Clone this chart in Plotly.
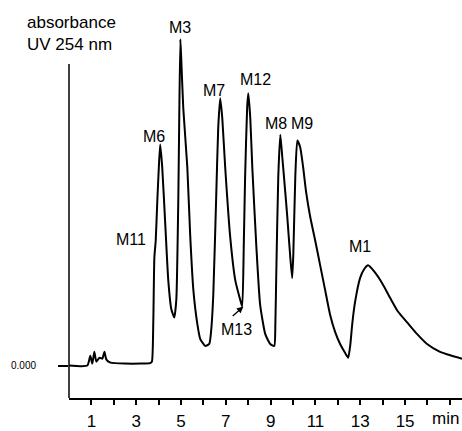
import plotly.graph_objects as go

# Chromatogram trace: retention time (min) and absorbance (arbitrary units)
time_min = [0.0, 0.82, 0.95, 1.04, 1.13, 1.22, 1.36, 1.49, 1.58, 1.67, 1.85, 2.5, 3.2, 3.62,
            3.70, 3.76, 3.81, 3.87, 3.94, 4.01, 4.07, 4.16, 4.30, 4.43, 4.57, 4.70, 4.79, 4.88,
            4.92, 4.97, 5.01, 5.10, 5.28, 5.41, 5.55, 5.73, 5.86, 6.08, 6.26, 6.35, 6.44, 6.57,
            6.66, 6.75, 6.84, 6.97, 7.19, 7.42, 7.64, 7.73, 7.80, 7.86, 7.95, 8.00, 8.09, 8.18,
            8.36, 8.53, 8.76, 8.98, 9.16, 9.21, 9.25, 9.34, 9.43, 9.52, 9.65, 9.74, 9.87, 9.96,
            10.01, 10.10, 10.19, 10.32, 10.45, 10.58, 10.76, 10.99, 11.21, 11.43, 11.65, 11.88,
            12.10, 12.32, 12.46, 12.55, 12.64, 12.77, 12.99, 13.17, 13.35, 13.61, 13.97, 14.33,
            14.68, 15.09, 15.54, 15.98, 16.56, 17.09, 17.54]
absorbance = [0.0, 0.0, 0.10, 0.02, 0.14, 0.04, 0.08, 0.07, 0.14, 0.06, 0.03, 0.02, 0.02, 0.025,
              0.04, 0.42, 1.10, 1.27, 1.67, 2.02, 2.25, 2.02, 1.42, 0.87, 0.57, 0.49, 0.67, 1.72,
              2.52, 3.32, 3.12, 2.62, 2.02, 1.32, 0.77, 0.42, 0.27, 0.20, 0.22, 0.37, 0.72, 1.72,
              2.42, 2.72, 2.52, 2.02, 1.32, 0.87, 0.67, 0.60, 1.22, 1.92, 2.62, 2.77, 2.52, 2.02,
              1.22, 0.62, 0.32, 0.22, 0.20, 0.42, 0.92, 1.92, 2.35, 2.12, 1.77, 1.52, 1.12, 0.89,
              1.12, 1.92, 2.29, 2.22, 2.02, 1.77, 1.52, 1.27, 1.02, 0.77, 0.52, 0.34,
              0.22, 0.13, 0.08, 0.20, 0.42, 0.65, 0.89, 0.98, 1.02, 0.96, 0.84, 0.69,
              0.55, 0.44, 0.32, 0.22, 0.14, 0.10, 0.07]

# Peak labels: text and where they sit (time, absorbance)
peak_names = ["M6", "M3", "M7", "M12", "M8", "M9", "M1", "M11"]
peak_label_t = [3.81, 4.97, 6.48, 8.31, 9.25, 10.40, 12.99, 2.78]
peak_label_a = [2.33, 3.44, 2.80, 2.91, 2.46, 2.46, 1.21, 1.28]

# M13 arrow label
m13_label = "M13"
m13_text_t, m13_text_a = 7.46, 0.37
m13_head_t, m13_head_a = 7.78, 0.60
m13_tail_t, m13_tail_a = 7.24, 0.49

x_tick_vals = list(range(1, 18))
x_tick_text = ["1", "", "3", "", "5", "", "7", "", "9", "", "11", "", "13", "", "15", "", ""]
x_unit_label = "min"

FONT = "Liberation Sans, Arial, sans-serif"

fig = go.Figure()
fig.add_trace(go.Scatter(x=time_min, y=absorbance, mode="lines",
                         line=dict(color="black", width=2, shape="spline", smoothing=0.5),
                         hoverinfo="skip", showlegend=False, cliponaxis=False))

for name, t, a in zip(peak_names, peak_label_t, peak_label_a):
    fig.add_annotation(x=t, y=a, text=name, showarrow=False,
                       font=dict(family=FONT, size=16, color="black"))

fig.add_annotation(x=m13_text_t, y=m13_text_a, text=m13_label, showarrow=False,
                   font=dict(family=FONT, size=16, color="black"))
fig.add_annotation(x=m13_head_t, y=m13_head_a, ax=m13_tail_t, ay=m13_tail_a,
                   axref="x", ayref="y", text="", showarrow=True,
                   arrowhead=2, arrowsize=1, arrowwidth=1.3, arrowcolor="black")

# unit label at the end of the time axis, kept just inside the right edge
fig.add_annotation(x=1, xref="paper", yref="paper", y=0, yanchor="top", yshift=-9,
                   xanchor="right", xshift=-1,
                   text=x_unit_label, showarrow=False,
                   font=dict(family=FONT, size=17, color="black"))

# Axis title
fig.add_annotation(xref="paper", yref="paper", x=-44/393, y=1.0, xanchor="left", yanchor="top",
                   yshift=-11, text="absorbance<br>UV 254 nm", align="left", showarrow=False,
                   font=dict(family=FONT, size=17, color="black"))
# zero label
fig.add_annotation(xref="paper", yref="y", x=0, y=0.0, xanchor="right", xshift=-31,
                   text="0.000", showarrow=False,
                   font=dict(family=FONT, size=10, color="black"))

# vertical axis line (stops below the tallest peak)
fig.add_shape(type="line", xref="paper", yref="y", x0=0, x1=0, y0=-0.33, y1=3.07,
              line=dict(color="black", width=1.5))

fig.update_layout(
    width=462, height=431,
    margin=dict(l=69, r=0, t=0, b=26),
    plot_bgcolor="white", paper_bgcolor="white",
    xaxis=dict(range=[0, 17.54], showgrid=False, zeroline=False, showline=True,
               linecolor="black", linewidth=2, ticks="outside", ticklen=5, tickwidth=1.5,
               tickcolor="black", tickvals=x_tick_vals, ticktext=x_tick_text,
               ticklabelstandoff=2,
               tickfont=dict(family=FONT, size=17, color="black")),
    yaxis=dict(range=[-0.33, 3.72], showgrid=False, zeroline=False, showline=False,
               ticks="outside", ticklen=10, tickwidth=1.5, tickcolor="black",
               tickvals=[0], showticklabels=False),
)

fig.write_html("out.html")
